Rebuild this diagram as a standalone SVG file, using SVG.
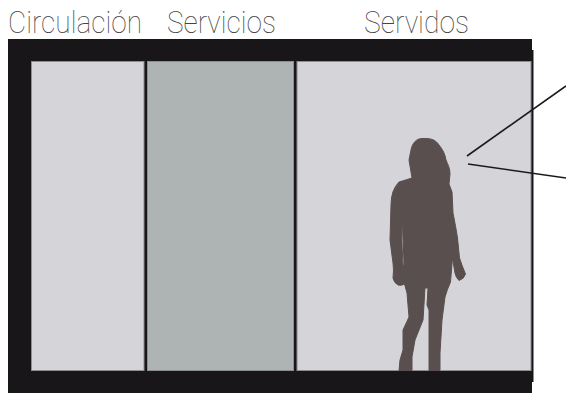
<svg xmlns="http://www.w3.org/2000/svg" width="566" height="394" viewBox="0 0 566 394">
<style>
.lab{font-family:"Roboto","Liberation Sans",sans-serif;font-weight:100;font-size:31px;fill:#444}
.pan{stroke:#8e8e90;stroke-width:1}
.ln{fill:none;stroke:#1c1a1c;stroke-width:1.6}
</style>
<rect width="566" height="394" fill="#fff"/>
<g id="frame">
<rect x="8" y="39" width="524" height="354" fill="#19161a"/>
<rect x="531" y="50" width="2.5" height="332" fill="#19161a"/>
</g>
<g id="circulacion"><rect class="pan" x="31.5" y="61.5" width="112.500" height="309" fill="#d5d5d9"/><text class="lab" x="8" y="33" textLength="134" lengthAdjust="spacingAndGlyphs">Circulación</text></g>
<g id="servicios"><rect class="pan" x="147.500" y="61.500" width="146" height="309" fill="#adb4b3"/><text class="lab" x="167" y="33" textLength="109" lengthAdjust="spacingAndGlyphs">Servicios</text></g>
<g id="servidos"><rect class="pan" x="297" y="61.500" width="234" height="309" fill="#d5d5d9"/><text class="lab" x="364" y="33" textLength="105" lengthAdjust="spacingAndGlyphs">Servidos</text></g>
<g id="figura">
<path fill="#5a4f4f" stroke="#5a4f4f" stroke-width="1" stroke-linejoin="round" fill-rule="evenodd" d="M423 138.500C431 138 436 140 439 145C443 150 445 154 446 160C448 165 450 168 450 174L449 184L452 192L453 213Q456 228 457.500 238L459.500 258Q462 266 465.500 274Q464 279 459 280.500Q456 278 455 273L452.500 258L450.500 282Q447 290 445 297L442 320L440 353L440 370.500L429 370.500L429 340L429 310L427 305L428 288L425 288L423 320L415 340L412 357L412 370.500L399 370.500L400 360L403 350L403 330L409 317L407 293L404.500 284Q401 286 398 285Q394 283 393 278Q394 270 393 263L390 240L391 205Q391 190 399 182L412 178L409 160L411 150C412 144 416 138 423 138.500ZM402.500 218Q401 240 403 265Q404 268 404 262Q403 240 402.500 218Z"/>
</g>
<g id="conectores">
<path class="ln" d="M467 156L566 86"/>
<path class="ln" d="M468 164L566 178"/>
</g>
</svg>
